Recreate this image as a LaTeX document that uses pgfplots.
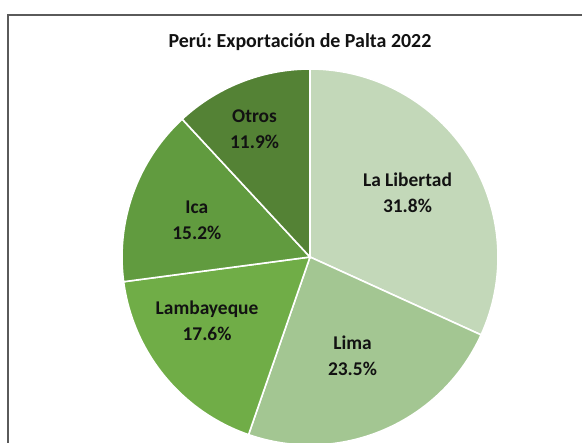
\documentclass[border=0pt]{standalone}
\usepackage{fontspec}
\setmainfont{Carlito}
\usepackage{pgfplots}
\usepackage{pgfplotstable}
\pgfplotsset{compat=1.18}
\frenchspacing

\definecolor{c0}{HTML}{C3D8B9}
\definecolor{c1}{HTML}{A3C692}
\definecolor{c2}{HTML}{70AD47}
\definecolor{c3}{HTML}{619B3F}
\definecolor{c4}{HTML}{548235}
\definecolor{txt}{HTML}{121212}
\definecolor{framec}{HTML}{5A5A5A}

% share (%), label radius (fraction of r), label angle shift (deg)
\pgfplotstableread{
name pct lr da
{La Libertad} 31.8 0.62 0.5
Lima 23.5 0.573 0
Lambayeque 17.6 0.644 -7.5
Ica 15.2 0.633 1.8
Otros 11.9 0.742 2
}\palta

\begin{document}
\begin{tikzpicture}
\begin{axis}[
  scale only axis, width=582bp, height=443bp,
  xmin=0, xmax=582, ymin=0, ymax=443,
  hide axis, clip=false]
\pgfplotsextra{
  \begin{scope}
  \clip (axis cs:0,0) rectangle (axis cs:582,443);
  \draw[framec, line width=2bp] (axis cs:8,-20) |- (axis cs:620,428);
  \node[text=txt, font=\bfseries\fontsize{20}{22}\selectfont] at (axis cs:300,401) {Perú: Exportación de Palta 2022};
  % slices, clockwise from 12 o'clock
  \xdef\acc{90}
  \foreach \i in {0,...,4}{
    \pgfplotstablegetelem{\i}{pct}\of\palta
    \pgfmathsetmacro\sa{\acc}
    \pgfmathsetmacro\ea{\acc-3.6*\pgfplotsretval}
    \fill[c\i, draw=white, line width=1.6bp] (axis cs:310,186) -- ++(\sa:188bp)
      arc[start angle=\sa, end angle=\ea, radius=188bp] -- cycle;
    \xdef\acc{\ea}
  }
  % labels
  \xdef\acc{90}
  \foreach \i in {0,...,4}{
    \pgfplotstablegetelem{\i}{name}\of\palta \let\nm\pgfplotsretval
    \pgfplotstablegetelem{\i}{lr}\of\palta \let\lr\pgfplotsretval
    \pgfplotstablegetelem{\i}{da}\of\palta \let\da\pgfplotsretval
    \pgfplotstablegetelem{\i}{pct}\of\palta \let\pc\pgfplotsretval
    \pgfmathsetmacro\mid{\acc-1.8*\pc+\da}
    \pgfmathsetmacro\rr{\lr*188}
    \node[align=center, text=txt, font=\bfseries\fontsize{19.5}{26}\selectfont]
      at ([shift={(\mid:\rr bp)}]axis cs:310,186) {\nm\\\pc\%};
    \pgfmathsetmacro\ea{\acc-3.6*\pc}
    \xdef\acc{\ea}
  }
  \end{scope}
}
\end{axis}
\pgfresetboundingbox
\path[use as bounding box] (0,0) rectangle (582bp,443bp);
\end{tikzpicture}
\end{document}
